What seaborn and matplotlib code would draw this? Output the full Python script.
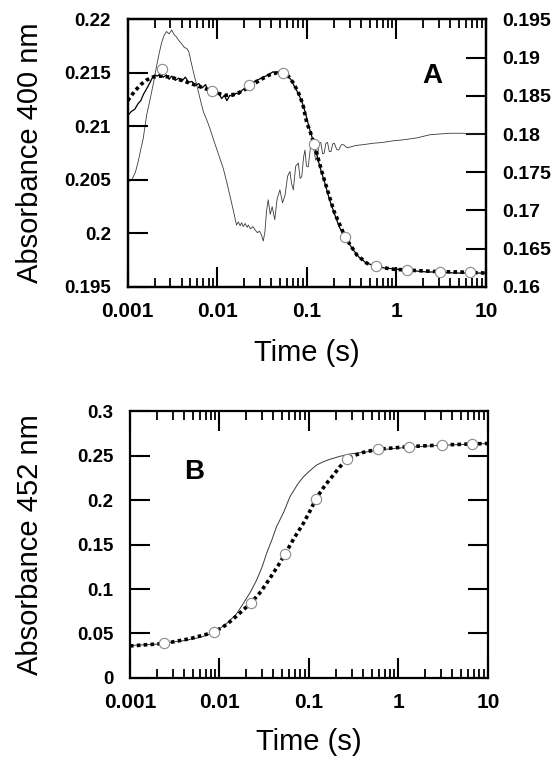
import numpy as np
import pandas as pd
import matplotlib
matplotlib.use("Agg")
import matplotlib.pyplot as plt
import seaborn as sns
from matplotlib import font_manager

# ---------------------------------------------------------
# DATA
# ---------------------------------------------------------
# sampling times of the open circles (shared by both panels)
circle_t = [0.00243, 0.00866, 0.0226, 0.0541, 0.12, 0.266, 0.586, 1.31, 3.03, 6.66]

# Panel A, left axis (Absorbance 400 nm)
a_circle = [0.2154, 0.2133, 0.2139, 0.2150, 0.2084, 0.1997, 0.19696, 0.19659, 0.19643, 0.19637]

a_fit_t = [0.001, 0.0012, 0.0014, 0.0016, 0.0019, 0.0023, 0.003, 0.004, 0.0055, 0.0075,
           0.01, 0.0125, 0.016, 0.02, 0.025, 0.031, 0.038, 0.046, 0.054, 0.062,
           0.07, 0.08, 0.09, 0.1, 0.108, 0.12, 0.15, 0.2, 0.266, 0.36,
           0.47, 0.6, 0.85, 1.3, 2.0, 3.0, 5.0, 10.0]
a_fit = [0.2124, 0.2133, 0.2139, 0.2143, 0.2146, 0.2147, 0.2146, 0.2143, 0.2139, 0.2135,
         0.2131, 0.2129, 0.2130, 0.2134, 0.2139, 0.2144, 0.2148, 0.2150, 0.2150, 0.2147,
         0.2141, 0.2132, 0.2121, 0.2103, 0.2096, 0.2084, 0.2055, 0.2021, 0.1997, 0.1980,
         0.1972, 0.19695, 0.19668, 0.19658, 0.1965, 0.19643, 0.1964, 0.1963]

a_trace_t = [0.001, 0.0011, 0.0012, 0.0013, 0.0014, 0.0015, 0.0016, 0.0017, 0.0018, 0.0019,
             0.002, 0.00215, 0.0023, 0.0025, 0.0027, 0.0029, 0.0031, 0.0034, 0.0037, 0.004,
             0.0044, 0.0048, 0.0052, 0.0057, 0.0062, 0.0068, 0.0074, 0.008, 0.0087, 0.0095,
             0.0103, 0.0112, 0.012, 0.0128, 0.0138, 0.015, 0.0162, 0.0175, 0.019, 0.0205,
             0.0225, 0.0245, 0.027, 0.0295, 0.032, 0.035, 0.0385, 0.042, 0.046, 0.05,
             0.055, 0.06, 0.066, 0.072, 0.08, 0.088, 0.096, 0.105, 0.115, 0.125,
             0.14, 0.16, 0.18, 0.2, 0.23, 0.27, 0.32, 0.38, 0.45, 0.55,
             0.7, 0.9, 1.2, 1.6, 2.2, 3.0, 4.5, 7.0, 10.0]
a_trace = [0.2110, 0.2114, 0.2116, 0.2121, 0.2124, 0.2130, 0.2134, 0.2138, 0.2142, 0.2146,
           0.2148, 0.2147, 0.2149, 0.2146, 0.2148, 0.2144, 0.2147, 0.2143, 0.2145, 0.2142,
           0.2146, 0.2141, 0.2142, 0.2138, 0.2140, 0.2136, 0.2139, 0.2132, 0.2134, 0.2130,
           0.2131, 0.2126, 0.2129, 0.2124, 0.2129, 0.2128, 0.2131, 0.2130, 0.2134, 0.2135,
           0.2139, 0.2140, 0.2143, 0.2144, 0.2146, 0.2147, 0.2149, 0.2151, 0.2150, 0.2152,
           0.2149, 0.2147, 0.2144, 0.2138, 0.2131, 0.2123, 0.2113, 0.2100, 0.2089, 0.2078,
           0.2062, 0.2046, 0.2031, 0.2020, 0.2006, 0.1996, 0.1986, 0.1978, 0.1973, 0.1970,
           0.1968, 0.1967, 0.1966, 0.1965, 0.1964, 0.1964, 0.1963, 0.1963, 0.1963]

# Panel A, right axis (thin trace)
a_thin_t = [0.00105, 0.00112, 0.00122, 0.00131, 0.0014, 0.00149, 0.00156, 0.00163, 0.00174, 0.00185,
            0.00198, 0.00211, 0.00225, 0.0024, 0.00255, 0.00272, 0.0029, 0.0031, 0.0033, 0.0035,
            0.00368, 0.004, 0.0043, 0.00456, 0.0048, 0.0052, 0.0056, 0.0059, 0.0064, 0.007,
            0.0076, 0.00829, 0.009, 0.00982, 0.0107, 0.01167, 0.0127, 0.0138, 0.0151, 0.0164,
            0.0172, 0.018, 0.0187, 0.0195, 0.0205, 0.0215, 0.0222, 0.0235, 0.025, 0.0263,
            0.028, 0.0295, 0.0312, 0.0326, 0.034, 0.0355, 0.037, 0.039, 0.041, 0.0438,
            0.0465, 0.05, 0.0535, 0.057, 0.061, 0.0647, 0.0675, 0.0706, 0.075, 0.0803,
            0.084, 0.0876, 0.092, 0.0951, 0.099, 0.1035, 0.11, 0.1177, 0.125, 0.1314,
            0.137, 0.1429, 0.15, 0.156, 0.163, 0.17, 0.178, 0.1856, 0.194, 0.2023,
            0.215, 0.2264, 0.242, 0.2578, 0.28, 0.3046, 0.35, 0.42, 0.5556, 0.7,
            0.9, 1.1, 1.3, 1.7, 2.35, 3.0, 3.96, 5.5, 7.0, 8.9, 10.0]
a_thin = [0.1738, 0.1741, 0.1750, 0.1764, 0.1780, 0.1794, 0.1810, 0.1825, 0.1840, 0.1855,
          0.1872, 0.1890, 0.1906, 0.1920, 0.1929, 0.1934, 0.1931, 0.1936, 0.1930, 0.1927,
          0.1923, 0.1918, 0.1913, 0.1912, 0.1908, 0.1890, 0.1874, 0.1864, 0.1847, 0.1829,
          0.1819, 0.1807, 0.1794, 0.1781, 0.1768, 0.1755, 0.1738, 0.1720, 0.1700, 0.1681,
          0.1685, 0.1680, 0.1684, 0.1679, 0.1683, 0.1678, 0.1681, 0.1676, 0.1679, 0.1675,
          0.1671, 0.1673, 0.1668, 0.1660, 0.1672, 0.1700, 0.1714, 0.1695, 0.1705, 0.1688,
          0.1715, 0.1727, 0.1710, 0.1720, 0.1745, 0.1751, 0.1735, 0.1727, 0.1758, 0.1762,
          0.1742, 0.1744, 0.1770, 0.1779, 0.1758, 0.1757, 0.1784, 0.1786, 0.1766, 0.1770,
          0.1788, 0.1789, 0.1774, 0.1775, 0.1788, 0.1789, 0.1777, 0.1777, 0.1787, 0.1788,
          0.1780, 0.1779, 0.1786, 0.1786, 0.1782, 0.1783, 0.1785, 0.1786, 0.1788, 0.1789,
          0.1791, 0.1792, 0.1793, 0.1795, 0.1799, 0.1800, 0.1801, 0.1801, 0.1800, 0.1800, 0.1800]

# Panel B (Absorbance 452 nm)
b_circle = [0.0388, 0.0513, 0.0846, 0.1393, 0.2015, 0.2457, 0.2570, 0.2600, 0.2618, 0.2630]

b_fit_t = [0.001, 0.00243, 0.0047, 0.00866, 0.012, 0.0143, 0.018, 0.0226, 0.029, 0.0366,
           0.045, 0.0541, 0.068, 0.0866, 0.103, 0.12, 0.15, 0.187, 0.22, 0.266,
           0.33, 0.403, 0.586, 1.31, 3.03, 6.66, 10.0]
b_fit = [0.0360, 0.0388, 0.0442, 0.0513, 0.0600, 0.0665, 0.0755, 0.0846, 0.0970, 0.1120,
         0.1260, 0.1393, 0.1570, 0.1738, 0.1880, 0.2015, 0.2160, 0.2280, 0.2370, 0.2457,
         0.2505, 0.2535, 0.2570, 0.2600, 0.2618, 0.2630, 0.2635]

b_thin_t = [0.001, 0.002, 0.004, 0.006, 0.0086, 0.012, 0.0155, 0.0185, 0.022, 0.026,
            0.03, 0.0336, 0.0384, 0.0434, 0.052, 0.0613, 0.075, 0.0866, 0.1, 0.1216,
            0.145, 0.171, 0.22, 0.286, 0.4, 0.55, 0.8, 1.2, 2.0, 4.0, 10.0]
b_thin = [0.0365, 0.0380, 0.0420, 0.0455, 0.0510, 0.0610, 0.0720, 0.0839, 0.0960, 0.1100,
          0.1250, 0.1400, 0.1550, 0.1700, 0.1860, 0.2037, 0.2180, 0.2260, 0.2320, 0.2393,
          0.2430, 0.2457, 0.2490, 0.2517, 0.2535, 0.2555, 0.2575, 0.2590, 0.2605, 0.2620, 0.2635]

# Tick values / labels
x_ticks = [0.001, 0.01, 0.1, 1, 10]
x_ticklabels = ["0.001", "0.01", "0.1", "1", "10"]
a_left_ticks = [0.195, 0.2, 0.205, 0.21, 0.215, 0.22]
a_left_labels = ["0.195", "0.2", "0.205", "0.21", "0.215", "0.22"]
a_right_ticks = [0.16, 0.165, 0.17, 0.175, 0.18, 0.185, 0.19, 0.195]
a_right_labels = ["0.16", "0.165", "0.17", "0.175", "0.18", "0.185", "0.19", "0.195"]
b_ticks = [0, 0.05, 0.1, 0.15, 0.2, 0.25, 0.3]
b_labels = ["0", "0.05", "0.1", "0.15", "0.2", "0.25", "0.3"]

# ---------------------------------------------------------
# STYLE
# ---------------------------------------------------------
sns.set_style("ticks")
plt.rcParams['font.family'] = ['Liberation Sans', 'DejaVu Sans']
plt.rcParams.update({
    'text.color': 'black', 'axes.labelcolor': 'black',
    'xtick.color': 'black', 'ytick.color': 'black', 'axes.edgecolor': 'black',
})
installed = {f.name for f in font_manager.fontManager.ttflist}
narrow = 'Liberation Sans Narrow' if 'Liberation Sans Narrow' in installed else 'Liberation Sans'

MAJ, MIN, TW = 14.5, 6.5, 1.5
CIRCLE_S = 55


def style_x(ax):
    ax.set_xscale('log')
    ax.set_xlim(0.001, 10)
    minors = [m * 10.0 ** e for e in range(-3, 1) for m in range(2, 10)]
    ax.set_xticks(minors, minor=True)
    ax.set_xticks(x_ticks, labels=x_ticklabels, fontweight='bold', fontsize=15)
    ax.tick_params(axis='x', which='major', direction='in', length=MAJ, width=TW,
                   top=True, bottom=True, pad=11, colors='black')
    ax.tick_params(axis='x', which='minor', direction='in', length=MIN, width=1.3,
                   top=True, bottom=True, labelbottom=False, colors='black')
    for s in ax.spines.values():
        s.set_linewidth(1.6)
        s.set_color('black')


fig = plt.figure(figsize=(5.6, 7.6), dpi=100)
axA = fig.add_axes([0.228, 0.6224, 0.640, 0.3522])
axB = fig.add_axes([0.2321, 0.1079, 0.6393, 0.3513])

# ---------------------------------------------------------
# PANEL A
# ---------------------------------------------------------
axA2 = axA.twinx()
axA.set_zorder(axA2.get_zorder() + 1)
axA.patch.set_visible(False)

sns.lineplot(x=a_thin_t, y=a_thin, ax=axA2, color='#3a3a3a', lw=0.6,
             estimator=None, sort=False)
sns.lineplot(x=a_trace_t, y=a_trace, ax=axA, color='black', lw=0.9,
             estimator=None, sort=False)
sns.lineplot(x=a_fit_t, y=a_fit, ax=axA, color='black', lw=2.6,
             linestyle=(0, (1.0, 0.9)), estimator=None, sort=False)
sns.scatterplot(x=circle_t, y=a_circle, ax=axA, s=CIRCLE_S, color='white',
                edgecolor='#8a8a8a', linewidth=0.8, zorder=5)

style_x(axA)
axA.set_ylim(0.195, 0.22)
axA.set_yticks(a_left_ticks, labels=a_left_labels, fontweight='bold',
               fontsize=13.5, fontfamily=narrow)
axA.tick_params(axis='y', direction='in', length=MAJ, width=TW, pad=12,
                left=True, right=False, colors='black')
axA2.set_ylim(0.16, 0.195)
axA2.set_xlim(0.001, 10)
axA2.set_yticks(a_right_ticks, labels=a_right_labels, fontweight='bold', fontsize=14)
axA2.tick_params(axis='y', direction='in', length=MAJ, width=TW, pad=12, colors='black')
for s in axA2.spines.values():
    s.set_linewidth(1.6)
    s.set_color('black')

axA.set_xlabel("Time (s)", fontsize=21, color='black')
axA.set_ylabel("Absorbance 400 nm", fontsize=21, color='black')
axA.xaxis.set_label_coords(0.5, -0.196)
axA.yaxis.set_label_coords(-0.234, 0.5)
axA2.set_ylabel("")
axA.text(0.85, 0.79, "A", transform=axA.transAxes, fontsize=20,
         fontweight='bold', ha='center', va='center', color='black')

# ---------------------------------------------------------
# PANEL B
# ---------------------------------------------------------
sns.lineplot(x=b_thin_t, y=b_thin, ax=axB, color='#3a3a3a', lw=0.7,
             estimator=None, sort=False)
sns.lineplot(x=b_fit_t, y=b_fit, ax=axB, color='black', lw=2.6,
             linestyle=(0, (1.0, 0.9)), estimator=None, sort=False)
sns.scatterplot(x=circle_t, y=b_circle, ax=axB, s=CIRCLE_S, color='white',
                edgecolor='#8a8a8a', linewidth=0.8, zorder=5)

style_x(axB)
axB.set_ylim(0, 0.3)
axB.set_yticks(b_ticks, labels=b_labels, fontweight='bold',
               fontsize=13.5, fontfamily=narrow)
axB.tick_params(axis='y', direction='in', length=MAJ, width=TW, pad=12,
                left=True, right=True, labelright=False, colors='black')

axB.set_xlabel("Time (s)", fontsize=21, color='black')
axB.set_ylabel("Absorbance 452 nm", fontsize=21, color='black')
axB.xaxis.set_label_coords(0.5, -0.189)
axB.yaxis.set_label_coords(-0.240, 0.5)
axB.text(0.18, 0.77, "B", transform=axB.transAxes, fontsize=20,
         fontweight='bold', ha='center', va='center', color='black')

fig.savefig("out.png", dpi=100)
